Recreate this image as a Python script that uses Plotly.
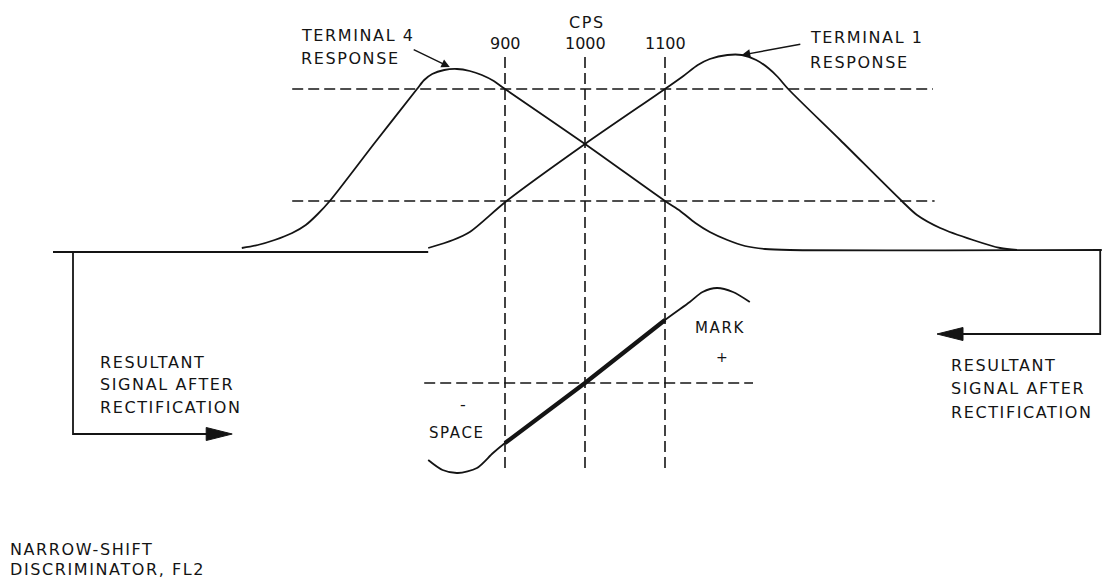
import plotly.graph_objects as go

# ---------------- data (x: frequency in CPS, y: relative level, baseline = 0) ----------------
MARKER_FREQS = [900, 1000, 1100]
MARKER_LABELS = ["900", "1000", "1100"]

# Terminal 4 response (low-frequency filter)
T4_FREQ = [571, 591, 612, 634, 651, 666, 681, 738, 790, 799, 809, 824, 840, 856, 871, 886,
           900, 1000, 1100, 1119, 1138, 1156, 1178, 1200, 1225, 1256, 1646]
T4_LEVEL = [4, 7, 12, 19, 27, 38, 51, 110, 163, 172, 178, 182, 183, 181, 177, 171,
            163, 108, 51, 41, 29, 20, 12, 6, 3, 2, 2]

# Terminal 1 response (high-frequency filter)
T1_FREQ = [804, 835, 856, 902, 1000, 1100, 1123, 1141, 1156, 1178, 1196, 1214, 1229, 1241,
           1254, 1319, 1396, 1415, 1444, 1485, 1519, 1540]
T1_LEVEL = [4, 12, 20, 51, 108, 163, 176, 187, 193, 197, 197, 192, 184, 175,
            163, 112, 51, 37, 24, 12, 4, 2]

# Discriminator output after rectification
DISC_FREQ = [804, 822, 841, 865, 885, 900, 1000, 1100, 1131, 1147, 1165, 1185, 1206]
DISC_LEVEL = [-208, -218, -221, -216, -201, -191, -131, -68, -50, -40, -36, -40, -50]

UPPER_REF_LEVEL = 163
LOWER_REF_LEVEL = 51
DISC_ZERO_LEVEL = -131

LEFT_BASE_FREQ = [335, 804]
LEFT_BASE_LEVEL = [0, 0]
LEFT_OUT_FREQ = [360, 360]
LEFT_OUT_LEVEL = [0, -182]
LEFT_OUT_TIP = 559
RIGHT_OUT_FREQ = [1644, 1644]
RIGHT_OUT_LEVEL = [2, -82]
RIGHT_OUT_TIP = 1440

# ---------------- style / layout ----------------
INK = "#141414"
FONT = "DejaVu Sans"
X_RANGE = [268.75, 1656.25]   # 1.25 CPS per pixel
Y_RANGE = [-326, 252]
PX_X = 1.25
PX_Y = 1.0

fig = go.Figure()


def add_line(x, y, width=1.8, dash=None, shape="linear"):
    fig.add_trace(go.Scatter(
        x=x, y=y, mode="lines",
        line=dict(color=INK, width=width, dash=dash, shape=shape, smoothing=0.8),
        hoverinfo="skip", showlegend=False))


def add_head(tip_x, tip_y, direction):
    length = 26 * PX_X
    half = 6.5 * PX_Y
    bx = tip_x - direction * length
    fig.add_trace(go.Scatter(
        x=[tip_x, bx, bx, tip_x], y=[tip_y, tip_y + half, tip_y - half, tip_y],
        mode="lines", fill="toself", fillcolor=INK,
        line=dict(color=INK, width=1), hoverinfo="skip", showlegend=False))


DASH = "11px,5px"
DASH_W = 1.6
# reference dashed lines
add_line([634, 1435], [UPPER_REF_LEVEL] * 2, width=DASH_W, dash=DASH)
add_line([634, 1437], [LOWER_REF_LEVEL] * 2, width=DASH_W, dash=DASH)
add_line([799, 1210], [DISC_ZERO_LEVEL] * 2, width=DASH_W, dash=DASH)
for f in MARKER_FREQS:
    add_line([f, f], [195, -221], width=DASH_W, dash=DASH)

# filter responses
add_line(LEFT_BASE_FREQ, LEFT_BASE_LEVEL, width=1.8)
add_line(T4_FREQ, T4_LEVEL, width=1.8, shape="spline")
add_line(T1_FREQ, T1_LEVEL, width=1.8, shape="spline")

# discriminator curve (thin) plus thick linear region
add_line(DISC_FREQ, DISC_LEVEL, width=1.8, shape="spline")
thick = [(f, l) for f, l in zip(DISC_FREQ, DISC_LEVEL) if MARKER_FREQS[0] <= f <= MARKER_FREQS[-1]]
add_line([p[0] for p in thick], [p[1] for p in thick], width=4.2)

# output leads with arrows
add_line(LEFT_OUT_FREQ + [LEFT_OUT_TIP - 20 * PX_X], LEFT_OUT_LEVEL + [LEFT_OUT_LEVEL[-1]], width=1.8)
add_head(LEFT_OUT_TIP, LEFT_OUT_LEVEL[-1], +1)
add_line(RIGHT_OUT_FREQ + [RIGHT_OUT_TIP + 20 * PX_X], RIGHT_OUT_LEVEL + [RIGHT_OUT_LEVEL[-1]], width=1.8)
add_head(RIGHT_OUT_TIP, RIGHT_OUT_LEVEL[-1], -1)

# ---------------- text ----------------
SP = 'letter-spacing:1.6px'


def label(text, x, y, anchor="left", size=16, spacing=True):
    t = f'<span style="{SP}">{text}</span>' if spacing else text
    fig.add_annotation(x=x, y=y, xref="x", yref="y", text=t, showarrow=False,
                       xanchor=anchor, yanchor="middle",
                       font=dict(family=FONT, size=size, color=INK))


label("TERMINAL 4", 642, 217)
label("RESPONSE", 642, 194)
label("CPS", 1002, 230, anchor="center")
for f, t in zip(MARKER_FREQS, MARKER_LABELS):
    label(t, f, 209, anchor="center", spacing=False)
label("TERMINAL 1", 1279, 215)
label("RESPONSE", 1279, 190)

label("RESULTANT", 391, -110)
label("SIGNAL AFTER", 391, -132)
label("RECTIFICATION", 391, -155)
label("RESULTANT", 1455, -113)
label("SIGNAL AFTER", 1455, -136)
label("RECTIFICATION", 1455, -160)

label("-", 847, -152, anchor="center", spacing=False)
label("SPACE", 840, -181, anchor="center", size=15)
label("MARK", 1169, -76, anchor="center", size=15)
label("+", 1171, -105, anchor="center", size=14, spacing=False)

label("NARROW-SHIFT", 279, -297)
label("DISCRIMINATOR, FL2", 279, -317)

# pointer arrows for the response labels
for tail, tip in [((784, 203), (831, 185)), ((1271, 208), (1196, 197))]:
    fig.add_annotation(x=tip[0], y=tip[1], ax=tail[0], ay=tail[1],
                       xref="x", yref="y", axref="x", ayref="y",
                       text="", showarrow=True, arrowhead=2, arrowsize=1.2,
                       arrowwidth=1.4, arrowcolor=INK, standoff=0)

fig.update_xaxes(range=X_RANGE, visible=False, showgrid=False, zeroline=False, fixedrange=True)
fig.update_yaxes(range=Y_RANGE, visible=False, showgrid=False, zeroline=False, fixedrange=True)
fig.update_layout(width=1110, height=578, margin=dict(l=0, r=0, t=0, b=0),
                  paper_bgcolor="white", plot_bgcolor="white", showlegend=False)

fig.write_html("out.html", config={"displayModeBar": False, "staticPlot": True},
               post_script="document.body.style.margin='0';document.body.style.overflow='hidden';")
